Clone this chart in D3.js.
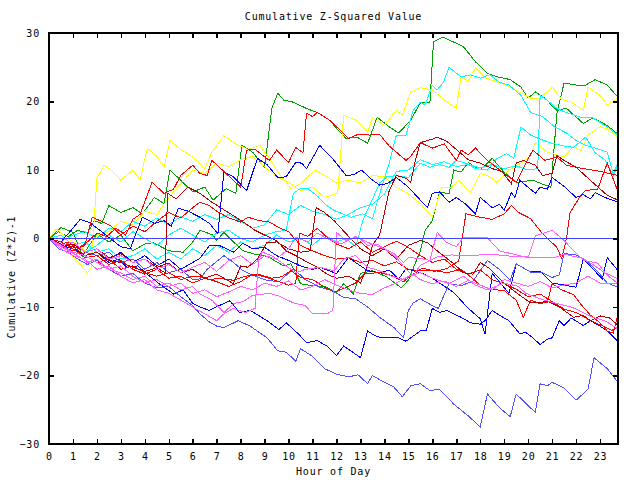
<!DOCTYPE html>
<html>
<head>
<meta charset="utf-8">
<script src="https://cdn.jsdelivr.net/npm/d3@7"></script>
<style>
  html, body { margin: 0; padding: 0; background: #fff; }
  text { font-family: "DejaVu Sans Mono", monospace; font-size: 10px; letter-spacing: 0.8px; fill: #000; }
</style>
</head>
<body>
<svg id="chart" width="640" height="480"></svg>
<script>
// ---------- chart text ----------
const titleText = "Cumulative Z-Squared Value";
const xLabelText = "Hour of Day";
const yLabelText = "Cumulative (Z*Z)-1";

// ---------- ticks ----------
const xTickValues = d3.range(0, 24);
const yTickValues = [-30, -20, -10, 0, 10, 20, 30];
const xDomain = [0, 23.75];
const yDomain = [-30, 30];

// ---------- series: [hour, cumulative value] ----------
const green1 = [[0,0],[0.4,1],[0.8,0.3],[1.2,1.2],[1.6,0.8],[1.9,2.6],[2.2,2.2],[2.5,4.8],[3,3.8],[3.5,4.5],[3.9,3.6],[4.4,6],[4.8,5.1],[5.05,10],[5.5,8.5],[6,6.8],[6.5,7.5],[6.85,5.6],[7.4,7.3],[7.8,6.6],[8.05,13.6],[8.5,12.6],[9,10.4],[9.3,19],[9.55,21.2],[9.8,20.2],[10.2,19.9],[10.8,18.9],[11.2,18.4],[11.7,17.3],[12,16.1],[12.4,14.6],[12.85,14.8],[13.3,13.9],[13.7,17.7],[14.2,16.3],[14.6,15.4],[15.1,17.3],[15.5,19.8],[15.9,19.9],[16.05,28.7],[16.45,29.4],[17.3,28],[17.8,25.8],[18.3,24.1],[18.7,23.6],[19.25,23.2],[19.7,22.1],[20,20.5],[20.3,21.4],[20.7,20.5],[21.2,18.7],[21.6,19],[22.3,16.8],[22.7,17.6],[23.3,16.5],[23.75,15.2]];
const green2 = [[0,0],[0.5,1.6],[1,0.9],[1.4,-2.5],[2,0.7],[2.5,-0.5],[3,0.5],[3.5,-1.8],[4,-0.8],[4.35,-0.6],[5,-1.8],[5.6,-2],[6,-0.5],[6.3,1.2],[6.85,0.5],[7,-0.3],[7.3,0.9],[7.7,-0.5],[8.1,-1.8],[8.6,-2.3],[9.1,-2.6],[9.8,-4],[10.1,-3.7],[10.5,-6.6],[11,-6.9],[11.5,-7],[12,-7.9],[12.3,-6.6],[12.7,-8.1],[13,-5.1],[13.5,-4.7],[14.1,-5.6],[14.7,-7.2],[15,-6.1],[15.5,-1.8],[15.7,1.2],[16,2.6],[16.3,6.7],[16.7,6.6],[16.9,10],[17.2,9.7],[17.5,11.1],[18,10],[18.5,11.7],[19,9.7],[19.5,8.2],[20.2,8.5],[20.7,7.8],[20.95,7.5],[21.2,18.3],[21.5,22.7],[22,22.4],[22.4,22.4],[22.8,23.2],[23.3,22.4],[23.75,20.6]];
const yellow1 = [[0,0],[0.3,-0.5],[0.7,-1.5],[1.1,-3],[1.6,-5],[1.75,-4.5],[2,8.8],[2.3,10.7],[2.6,10],[3,8.5],[3.5,10],[3.8,8.5],[4.1,13.2],[4.5,12],[4.8,10.4],[5.05,14.3],[5.5,13],[6,11.9],[6.5,10.2],[6.8,12.6],[7.3,15],[7.8,13.8],[8.3,13],[8.8,13.6],[9.2,11.7],[9.6,9.5],[10.1,7.3],[10.5,8],[11.1,10],[11.6,9],[12,8.1],[12.5,8.5],[13,8.1],[13.5,9.2],[14,9],[14.5,7.5],[15,6.5],[15.5,5.1],[16,3.1],[16.4,7.5],[16.8,7.5],[17.1,8.5],[17.6,6.7],[18,9.5],[18.3,9.2],[18.7,8.2],[19.2,10],[19.7,11],[20.1,12.1],[20.3,14],[20.8,12.6],[21.5,11.9],[21.9,13.5],[22.2,12.8],[22.5,15.1],[23,16.3],[23.3,16],[23.75,14.8]];
const yellow2 = [[0,0],[0.3,1.4],[0.8,0],[1.2,-1],[1.6,-2],[2,0.5],[2.5,1],[3,2.5],[3.5,2],[4,4],[4.5,3.5],[5,6],[5.5,8],[6,10],[6.5,9.5],[7,11],[7.5,10.5],[8,11.5],[8.5,12],[9,10.5],[9.5,9],[10,8.2],[10.5,7],[11,7.5],[11.5,6],[12.05,6.6],[12.3,18],[12.8,17.3],[13.1,16.3],[13.3,15.5],[13.5,17.6],[14,16.5],[14.5,18.7],[14.75,18],[15.1,21.4],[15.5,22],[16,21.7],[16.4,20.5],[17,19],[17.2,23.6],[17.5,23],[17.8,24.9],[18.2,23.5],[18.5,23.1],[19.1,22.4],[19.6,21.4],[20.1,20.5],[20.5,20.5],[21,22.1],[21.4,20.3],[21.8,19.9],[22.3,18.7],[22.5,22.1],[23,20.9],[23.3,19.5],[23.75,20.5]];
const cyan1 = [[0,0],[0.5,-1],[1,-0.5],[1.5,-2],[2,-1],[2.5,0.5],[3,-0.5],[3.5,1],[4,0],[4.5,-1],[5,0.5],[5.5,1.5],[6,0.5],[6.5,-0.5],[7,0.8],[7.5,1.2],[8,0],[8.5,-0.5],[9,0.5],[9.5,1],[9.9,1.2],[10.2,6.6],[10.5,7.3],[10.8,7.3],[11.2,6.2],[11.6,4.8],[11.9,4.1],[12.6,3.1],[13.1,3.6],[13.5,2.9],[13.8,6.5],[14.2,11],[14.5,15.1],[14.9,15.1],[15.2,18.7],[15.5,19.9],[15.7,19.5],[16,22.4],[16.2,21.7],[16.45,22.7],[16.7,25],[17.2,23.6],[17.6,23.9],[18,23.4],[18.4,23.9],[18.8,22.8],[19.2,22.4],[19.7,20.9],[20.1,18.4],[20.6,17.8],[21.1,16.3],[21.6,15.4],[22,14.3],[22.4,13.6],[22.7,13.3],[23.3,12.6],[23.55,9.5],[23.75,11]];
const cyan2 = [[0,0],[0.5,0.5],[1,-1],[1.5,-0.5],[2,-2],[2.5,-1.5],[3,-3],[3.5,-2.5],[4,-1.5],[4.5,-3],[5,-2],[5.5,-3],[6,-1.5],[6.5,-2.5],[7,-1],[7.5,-2],[8,-0.5],[8.5,-1.5],[9,-1],[9.5,0.5],[10,-0.5],[10.5,0],[11,-1],[11.5,0.5],[12,-0.5],[12.4,0],[12.8,-1.2],[13.1,2.6],[13.8,8.1],[14.1,9],[14.5,9.2],[15,8.9],[15.5,11],[15.9,10.4],[16.3,10.8],[16.7,10.4],[17,11.4],[17.4,11],[17.8,10.2],[18.3,10],[18.7,11.7],[19.1,12.4],[19.4,11.7],[19.7,16.3],[20.1,15.1],[20.5,14.5],[21,13.9],[21.5,13.5],[21.9,13.3],[22.4,14.8],[22.8,12.5],[23.2,11.5],[23.55,9.2],[23.75,10.5]];
const cyan3 = [[0,0],[0.5,-0.5],[1,0.5],[1.5,1],[2,0],[2.5,1.5],[3,1],[3.5,2.5],[4,1.8],[4.5,3],[5,2],[5.5,3.2],[6,2.5],[6.5,3.5],[7,2.8],[7.5,3.5],[8,2.5],[8.5,1.5],[9,2],[9.5,4.2],[10,3.5],[10.5,4.8],[11,4],[11.5,3.5],[12,2.8],[12.5,3.5],[13,4.5],[13.5,5],[14,6.5],[14.5,9.8],[15,10],[15.5,11.5],[16,10.8],[16.5,11.2],[17,10.5],[17.5,10.8],[18,10.3],[18.5,10.8],[19,10.2],[19.5,10.6],[20,10],[20.4,10.2],[20.5,20.9],[20.8,20.2],[21.1,19.2],[21.5,18.5],[22.2,17.7],[22.7,17.6],[23.3,16.3],[23.75,15.1]];
const blue1 = [[0,0],[0.5,-0.5],[1,1.5],[1.3,2.8],[1.7,2.3],[2.2,1],[2.55,0],[3,-1.2],[3.4,-1.5],[3.6,0.5],[3.9,3.1],[4.4,2.2],[4.8,2.6],[5.1,1.8],[5.4,4.4],[5.8,4],[6.3,3.1],[6.7,2.2],[7.05,0.7],[7.3,9.7],[7.7,9],[8.25,7],[8.7,11.7],[9.1,10.8],[9.55,8.9],[9.9,9],[10.3,11.1],[10.55,11],[10.75,10.2],[11.3,13.6],[11.9,11.4],[12.4,9.2],[12.7,9.3],[13.05,10],[13.4,8.8],[13.8,7.8],[14.1,8],[14.5,8.9],[15,7.5],[15.5,5.6],[15.8,4.5],[16,6.6],[16.3,6.8],[16.7,5.3],[17,6],[17.4,5],[17.8,3.6],[18,6],[18.5,4.5],[18.8,5],[19,4.1],[19.3,6.7],[19.45,6],[19.65,8.5],[20.3,6.6],[20.5,7.5],[20.8,7.2],[21,8.9],[21.5,7.6],[22,6],[22.3,6.4],[22.6,5.8],[22.8,6.7],[23.2,6],[23.75,5.3]];
const blue2 = [[0,0],[0.5,-1],[1,-1.5],[1.5,-2.5],[2,-2],[2.5,-3.5],[2.9,-3],[3.25,-4.2],[3.7,-4],[4.2,-5.5],[4.6,-6.6],[5.2,-8.1],[5.6,-7.5],[6,-9.5],[6.3,-10],[6.7,-10.5],[7.1,-9.8],[7.55,-9.1],[7.95,-10.8],[8.4,-10.5],[9.1,-12],[9.6,-13.3],[9.9,-12.3],[10.4,-13.9],[10.75,-15.2],[11.2,-14.9],[11.6,-15.7],[12,-17.1],[12.3,-15.7],[12.6,-16.4],[13,-17.4],[13.3,-13.5],[13.6,-14.2],[13.9,-14.5],[14.6,-14.5],[14.9,-15],[15.5,-13.5],[15.75,-13.4],[16,-10.2],[16.3,-10.8],[16.6,-10.5],[17.2,-11.5],[17.6,-12.3],[18,-12.5],[18.2,-12],[18.5,-10.5],[18.8,-11.2],[19.2,-12],[19.65,-13.9],[19.9,-13.7],[20.2,-14.5],[20.5,-15.5],[20.8,-14.7],[21,-14.5],[21.3,-12],[21.5,-12.7],[21.8,-11.6],[22.3,-12.7],[22.6,-12],[23,-12.8],[23.3,-13.5],[23.75,-15]];
const blue3 = [[0,0],[0.5,-1],[1,-0.5],[1.5,-2],[2,-1.5],[2.5,-3],[3,-2],[3.5,-3.5],[4,-2.5],[4.5,-4],[5,-3],[5.5,-4.5],[6,-3.5],[6.3,-2.9],[6.7,-1],[7.1,-1],[7.7,-2],[8.1,-0.7],[8.5,-1.5],[9,-1.3],[9.5,-2.5],[10,-3.2],[10.5,-4],[11,-4.5],[11.3,-4.2],[12,-5.1],[12.5,-2.8],[13.3,-4.7],[13.8,-5],[14.2,-4.6],[14.6,-5.9],[14.9,-4.4],[15.6,-5.1],[16,-5.8],[16.9,-7.9],[17.5,-10.2],[18,-11.7],[18.2,-14],[18.5,-5.1],[19.2,-8],[19.5,-3.7],[20.1,-4.9],[20.5,-4.8],[21,-6.5],[22,-7.1],[22.3,-3],[23.1,-5.9],[23.3,-2.8],[23.75,-4.7]];
const slate1 = [[0,0],[0.4,-1.5],[0.8,-2],[1.2,-3],[1.6,-3.8],[2,-3.2],[2.5,-4.5],[3,-5.5],[3.5,-5.1],[4,-6.5],[4.5,-7.2],[5,-7],[5.5,-8.5],[6,-9.8],[6.3,-11],[6.7,-12.2],[7,-12.8],[7.3,-13],[7.9,-12],[8.4,-12.8],[9.1,-14.5],[9.55,-16.4],[9.9,-16.6],[10.3,-17.9],[10.5,-16.1],[11,-17.2],[11.5,-19],[12,-19.8],[12.5,-20.2],[12.9,-19.9],[13.3,-21.2],[13.5,-20],[14,-21],[14.4,-21.7],[14.75,-23.1],[15.1,-21.5],[15.5,-21.2],[15.9,-22.2],[16.3,-22],[16.9,-24.2],[17.5,-25.9],[18,-27.5],[18.3,-22.7],[18.8,-24.7],[19.25,-26],[19.5,-22.7],[20.3,-25.4],[20.5,-21.2],[20.8,-21.5],[21,-21],[21.5,-21.8],[22,-23.6],[22.5,-22],[22.75,-17.4],[23.3,-19],[23.75,-21]];
const slate2 = [[0,0],[0.5,-1],[1,-0.5],[1.5,-2],[2,-2.5],[2.5,-2],[3,-3.5],[3.5,-3],[4,-4.5],[4.5,-3.5],[5,-5],[5.5,-4.5],[6,-6],[6.3,-5.9],[6.6,-4.5],[7.3,-2.5],[7.7,-3.5],[8.1,-4.7],[8.6,-5.5],[9.1,-6.1],[9.6,-6.3],[10.2,-4.4],[10.7,-6],[11.3,-7.1],[11.8,-7.6],[12.3,-8.6],[12.8,-8.8],[13.3,-10],[13.8,-11.5],[14.4,-13],[14.8,-14.5],[15,-10.5],[15.2,-9.4],[15.5,-8.8],[16,-9.8],[16.25,-10.2],[16.7,-6.6],[17.2,-6.9],[17.7,-6.2],[18.3,-3.2],[18.8,-4.5],[19.25,-6.1],[19.5,-3.7],[20.1,-4.9],[20.6,-5],[21,-5.7],[21.3,-5.3],[21.5,-2.2],[22,-2.4],[22.4,-3.2],[22.9,-4.8],[23.3,-6.5],[23.75,-7.1]];
const red1 = [[0,0],[0.4,-1],[0.8,-0.5],[1.2,-1.5],[1.6,-0.5],[2,0.8],[2.4,0.3],[2.8,1.5],[3.2,0.5],[3.5,2.8],[3.8,3.5],[4.3,8.2],[4.8,6.6],[5.2,7.2],[5.5,9.2],[6,10.7],[6.3,9.5],[6.6,9.2],[6.8,11.4],[7.3,9.8],[7.6,8.8],[8,7.5],[8.25,12.9],[8.6,13],[9.2,11.4],[9.5,12.9],[10,11.1],[10.3,13.3],[10.6,12.5],[10.75,18.3],[11,17.8],[11.2,18.4],[11.7,17.3],[12.1,16],[12.5,14.6],[12.9,15.2],[13.4,15.1],[13.8,15.2],[14.2,13.5],[14.9,11.4],[15.1,12],[15.5,14],[16,13.2],[16.5,13.8],[17,11.4],[17.2,12.9],[17.5,12.2],[17.8,13.2],[18.3,11.4],[19,9.5],[19.5,8.2],[19.9,11],[20.2,12.9],[20.7,11.4],[21.2,11.9],[21.6,10.7],[22.3,10.2],[23,9.8],[23.75,9.2]];
const red2 = [[0,0],[0.5,-0.8],[1,-2],[1.5,-2.5],[2,-3.5],[2.5,-3],[3,-4.5],[3.5,-4],[4,-5],[4.5,-5.5],[5,-5],[5.5,-6],[6,-5.5],[6.3,-5.5],[6.7,-6],[7.1,-5.8],[7.7,-6.1],[8.2,-5.5],[8.8,-5.3],[9.3,-5.8],[9.7,-5.6],[10.1,-4.7],[10.5,-5.7],[11,-6],[11.5,-7.1],[11.9,-7.8],[12.3,-7.3],[12.8,-6.5],[13.2,-5.1],[13.8,-5],[14.3,-5.4],[14.8,-6.3],[15.2,-5.2],[15.6,-4.3],[16.1,-4.8],[16.6,-4.4],[17.1,-3.3],[17.4,3.6],[18,3.1],[18.5,2.8],[19,3.6],[19.3,4.8],[19.6,3.8],[20.1,2.9],[20.6,0.7],[20.9,-0.3],[21.2,-1.3],[21.4,-2.9],[21.6,0],[21.75,3.8],[22.2,6.3],[22.4,7],[22.9,7.2],[23.3,11],[23.75,6.8]];
const red3 = [[0,0],[0.5,-1.2],[1,-1.8],[1.5,-1],[1.8,3.1],[2.2,2.5],[2.6,1.8],[3,0.5],[3.5,1.8],[4,1],[4.5,2.5],[5,3.8],[5.5,3],[6,4.5],[6.3,5.3],[6.7,4.8],[7,4],[7.5,3],[8,2.4],[8.3,3.1],[8.8,2.6],[9.2,2.4],[9.6,1.6],[10,1],[10.5,-1],[11,-1.8],[11.5,-2.5],[12,-3],[12.5,-2.8],[13,-3.5],[13.5,-3.2],[14,-4],[14.5,-3.4],[15,-4.5],[15.5,-4.7],[16,-4.6],[16.6,-5],[17.2,-4.5],[17.6,-5.6],[18,-6.8],[18.4,-7.4],[19,-7.6],[19.5,-9],[19.8,-11.5],[20.1,-9],[20.5,-9.5],[20.8,-9.3],[21,-6.6],[21.4,-7.5],[21.9,-8.2],[22.2,-9.6],[22.6,-11.2],[23,-12.3],[23.3,-13.5],[23.55,-13.8],[23.75,-11]];
const red4 = [[0,0],[0.5,-0.5],[1,-1.5],[1.5,-2.8],[2,-2.5],[2.5,-3.8],[3,-3.2],[3.5,-4.5],[4,-5.2],[4.5,-4.5],[5,-5.8],[5.5,-5.5],[6,-6.5],[6.5,-5.8],[7,-6.3],[7.5,-7],[8,-6.3],[8.5,-5.2],[9,-5.6],[9.5,-6.2],[10,-6.8],[10.3,-6.6],[10.45,0.8],[10.8,0.3],[11.2,1.5],[11.6,0.2],[12,-0.8],[12.5,-1.5],[13,-0.5],[13.5,-2],[14,-1.2],[14.5,-0.4],[15,-1.3],[15.5,-2.5],[16,-3.5],[16.5,-3],[17,-4.5],[17.5,-5.2],[18,-4.6],[18.5,-6],[19,-6.6],[19.5,-7.4],[20,-8.5],[20.5,-8.1],[21,-9.2],[21.5,-10.3],[22,-10.8],[22.5,-11.8],[23,-12.6],[23.5,-13.4],[23.75,-12.9]];
const darkRed1 = [[0,0],[0.5,-0.8],[1,-1.2],[1.5,-2.5],[2,-2],[2.5,-3.2],[3,-3.5],[3.5,-4.2],[4,-4.8],[4.5,-4.3],[4.85,-5],[4.95,6.6],[5.3,5.8],[5.8,7.5],[6.3,6.6],[6.8,5.3],[7.3,4.2],[7.8,3.1],[8.2,2.2],[8.6,1.2],[9,0.5],[9.5,-0.3],[9.9,-1.8],[10.3,-2.5],[10.8,-3.5],[11.2,-4.2],[11.6,-5.2],[12,-5.8],[12.5,-5.5],[13,-6.5],[13.3,-4],[13.5,-1],[13.8,0.5],[14.2,7],[14.5,9.2],[14.9,8.8],[15.1,8.2],[15.3,11.5],[15.5,14],[16,14.5],[16.2,14.8],[16.6,14.2],[17,13],[17.5,11.5],[18,11],[18.5,10.2],[18.9,9.8],[19.3,8],[19.5,11],[19.8,11.4],[20.3,10.7],[20.6,9.2],[21,9.5],[21.2,12.1],[21.5,11.4],[22,10.4],[22.5,8.8],[23.3,6.3],[23.75,5.6]];
const darkRed2 = [[0,0],[0.5,-1],[1,-0.8],[1.5,-2],[2,-1.5],[2.5,-2.8],[3,-2.2],[3.5,-3.5],[4,-3],[4.5,-4.2],[5,-3.6],[5.5,-5],[6,-4.5],[6.5,-5.8],[7,-5.2],[7.7,-6.6],[8,-4],[8.3,-4.2],[8.7,-3],[9.1,-0.6],[9.5,-0.5],[10,-1.5],[10.5,-2],[10.9,-1.8],[11.15,4.5],[11.5,3.8],[11.9,2.6],[12.4,0.7],[13,-1.5],[13.5,-2.5],[14,-1.5],[14.5,-3],[15,-1],[15.5,-0.3],[15.8,-0.6],[16.2,-1.8],[16.9,-3.7],[17.3,-5],[17.7,-5.2],[18,-3.5],[18.4,-4.4],[18.95,-6.4],[19.5,-7.9],[20.1,-9.4],[20.5,-9.4],[20.8,-9.1],[21.3,-10],[21.9,-11.5],[22.3,-11.2],[22.6,-12],[23,-11.3],[23.4,-11.6],[23.75,-12.7]];
const magenta1 = [[0,0],[0.4,-1],[0.8,-1.8],[1.2,-2.5],[1.6,-3.5],[2,-3],[2.5,-4.5],[3,-5],[3.5,-6],[4,-5.5],[4.5,-7],[5,-6.5],[5.5,-7.5],[6,-7],[6.3,-8.1],[6.8,-9],[7.3,-10.8],[7.7,-9.5],[8.1,-9.2],[8.5,-8.3],[9.2,-8],[9.6,-8.4],[10.2,-9.4],[10.7,-9.8],[11,-11],[11.6,-11],[11.85,-10.5],[12,0.9],[12.4,-0.3],[12.9,0.2],[13.3,-1],[13.7,-0.8],[14,-1.5],[14.4,-2.2],[14.8,-3.5],[15,-2.8],[15.5,-2.9],[15.9,-3.2],[16.2,0.9],[16.6,-0.6],[17,-1.2],[17.3,0.2],[18.3,0.1],[18.8,-1.8],[20,-2.8],[20.3,0.4],[21,1.2],[21.5,-0.3],[21.9,-1.8],[22.3,-3.2],[22.9,-3.6],[23.2,-5],[23.75,-5.9]];
const magenta2 = [[0,0],[0.5,-1.5],[1,-2.5],[1.5,-3],[2,-4.5],[2.5,-4],[3,-5.5],[3.5,-6.5],[4,-6],[4.5,-7.5],[5,-8],[5.5,-9],[6,-10],[6.5,-11],[7,-12],[7.3,-11],[7.7,-10.2],[8.2,-10.8],[8.6,-10.2],[8.75,-3],[8.9,-2],[9.3,-2.5],[9.7,-3.5],[10.3,-5],[10.7,-4.5],[11.3,-4.2],[11.9,-4.7],[12.3,-3],[12.8,-2.5],[13.3,-4.2],[13.8,-4.7],[14.3,-5.5],[14.8,-6],[15.2,-5.2],[15.5,-6],[16,-6.6],[16.5,-6.2],[17,-7],[17.5,-6.1],[18,-6.8],[18.5,-7.5],[19,-6],[19.5,-6.5],[20,-7],[20.5,-6.3],[21,-7.2],[21.5,-6.8],[22,-6.5],[22.5,-5.5],[23,-6.5],[23.75,-6.5]];
const magenta3 = [[0,0],[0.5,-1],[1,-2],[1.5,-2.5],[2,-3.5],[2.5,-4.5],[3,-4],[3.5,-5.5],[4,-6.5],[4.5,-6],[5,-7],[5.5,-6.5],[6,-8],[6.5,-7.5],[7,-8.5],[7.5,-7.8],[8,-7],[8.5,-7.5],[9,-6.5],[9.5,-7],[10,-6.2],[10.5,-7.5],[11,-7],[11.5,-6],[12,-6.8],[12.5,-7.5],[13,-8],[13.5,-8.2],[14,-7.2],[14.5,-6.5],[15,-5.5],[15.5,-5],[16,-5.8],[16.7,-6.6],[17.3,-5.5],[17.8,-6.8],[18.3,-7.5],[19,-6.5],[19.6,-7],[19.9,-8],[20.5,-8.8],[21.2,-9.5],[21.8,-10],[22.3,-10.8],[22.7,-11.5],[23.2,-12],[23.75,-13.2]];
const magenta4 = [[0,0],[0.5,-1],[1,-0.5],[1.5,-2],[2,-1.5],[2.5,-3],[3,-2.5],[3.5,-3.5],[4,-3],[4.5,-4.5],[5,-3.8],[5.5,-5],[6,-4.2],[6.5,-3.5],[7,-4.8],[7.5,-3.2],[8,-2.5],[8.5,-3.8],[9,-2.5],[9.5,-3],[10,-1.5],[10.3,0.2],[10.8,-0.5],[11.2,0.8],[11.7,-0.2],[12.2,-0.8],[12.8,0.3],[13.4,-0.7],[14,-1.5],[14.5,-2.8],[14.9,-4.5],[15.2,-5.4],[15.5,-3.9],[16.2,-2.7],[16.8,-2.4],[17.5,-2.5],[18.5,-2.3],[19.3,-2.6],[20,-2.7],[20.5,-2.8],[21.1,-2.8],[21.5,-2.3],[22.3,-2.9],[23,-4.5],[23.75,-6.6]];

// ---------- series table (data + colour family) ----------
const seriesData = [
  green1, green2, yellow1, yellow2, cyan1, cyan2, cyan3,
  blue1, blue2, blue3, slate1, slate2,
  red1, red2, red3, red4, darkRed1, darkRed2,
  magenta1, magenta2, magenta3, magenta4
];
const seriesColor = [
  "#00a000", "#00a000", "#ffff00", "#ffff00", "#00ffff", "#00ffff", "#00ffff",
  "#0000ff", "#0000ff", "#0000ff", "#5050ff", "#5050ff",
  "#ff0000", "#ff0000", "#ff0000", "#ff0000", "#b00000", "#b00000",
  "#ff60ff", "#ff60ff", "#ff60ff", "#ff60ff"
];

// ---------- layout ----------
const svg = d3.select("#chart");
const plotL = 49, plotR = 618, plotT = 33, plotB = 444;

const x = d3.scaleLinear().domain(xDomain).range([plotL, plotR]);
const y = d3.scaleLinear().domain(yDomain).range([plotB, plotT]);

svg.append("defs").append("clipPath").attr("id", "plotClip")
  .append("rect").attr("x", plotL).attr("y", plotT).attr("width", plotR - plotL).attr("height", plotB - plotT);

// series
const lineGen = d3.line().x(d => x(d[0])).y(d => y(d[1]));
const gLines = svg.append("g").attr("clip-path", "url(#plotClip)");
seriesData.forEach((s, i) => {
  gLines.append("path")
    .attr("d", lineGen(s))
    .attr("fill", "none")
    .attr("stroke", seriesColor[i])
    .attr("stroke-width", 1)
    .attr("shape-rendering", "crispEdges");
});

// zero line (drawn as a 1px crisp band, on top)
svg.append("rect")
  .attr("x", plotL).attr("width", plotR - plotL)
  .attr("y", Math.floor(y(0))).attr("height", 1)
  .attr("fill", "#4040ff")
  .attr("shape-rendering", "crispEdges");

// axes (ticks pointing inward, mirrored)
const tickLen = 5;
const axisB = d3.axisBottom(x).tickValues(xTickValues).tickSizeInner(-tickLen).tickSizeOuter(0).tickPadding(9).tickFormat(d3.format("d"));
const axisT = d3.axisTop(x).tickValues(xTickValues).tickSizeInner(-tickLen).tickSizeOuter(0).tickFormat("");
const axisL = d3.axisLeft(y).tickValues(yTickValues).tickSizeInner(-tickLen).tickSizeOuter(0).tickPadding(9).tickFormat(d3.format("d"));
const axisR = d3.axisRight(y).tickValues(yTickValues).tickSizeInner(-tickLen).tickSizeOuter(0).tickFormat("");

function styleAxis(g) {
  g.select(".domain").remove();
  g.selectAll(".tick line").attr("stroke", "#000").attr("stroke-width", 1.5).attr("shape-rendering", "crispEdges");
  g.selectAll(".tick text").attr("fill", "#000").style("font-family", "DejaVu Sans Mono, monospace").style("font-size", "10px");
}
svg.append("g").attr("transform", `translate(0,${plotB})`).call(axisB).call(styleAxis);
svg.append("g").attr("transform", `translate(0,${plotT})`).call(axisT).call(styleAxis);
svg.append("g").attr("transform", `translate(${plotL},0)`).call(axisL).call(styleAxis);
svg.append("g").attr("transform", `translate(${plotR},0)`).call(axisR).call(styleAxis);

// frame
svg.append("rect")
  .attr("x", plotL).attr("y", plotT).attr("width", plotR - plotL).attr("height", plotB - plotT)
  .attr("fill", "none").attr("stroke", "#000").attr("stroke-width", 2)
  .attr("shape-rendering", "crispEdges");

// titles
svg.append("text").attr("x", (plotL + plotR) / 2).attr("y", 20).attr("text-anchor", "middle").text(titleText);
svg.append("text").attr("x", (plotL + plotR) / 2).attr("y", 475).attr("text-anchor", "middle").text(xLabelText);
svg.append("text").attr("transform", "translate(15,277) rotate(-90)").attr("text-anchor", "middle").text(yLabelText);
</script>
</body>
</html>
